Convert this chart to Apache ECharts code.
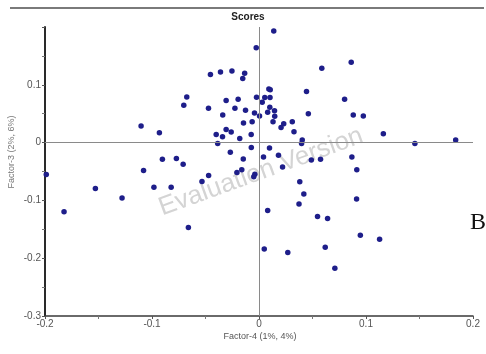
<!DOCTYPE html>
<html>
<head>
<meta charset="utf-8">
<script src="https://cdn.jsdelivr.net/npm/echarts@6/dist/echarts.min.js"></script>
<style>
html,body{margin:0;padding:0;background:#fff;}
#chart{width:486px;height:354px;}
</style>
</head>
<body>
<div id="chart"></div>
<script>
// Scores: Factor-4 (x) vs Factor-3 (y)
const factor4 = [
 -0.0026,-0.0454,-0.0360,-0.0253,-0.0134,-0.0152,-0.0675,-0.0703,-0.0472,-0.0307,
 -0.0195,-0.0023,-0.0225,-0.0126,-0.0042,0.0005,-0.0339,-0.0145,-0.0064,-0.1102,
 -0.0931,-0.0400,-0.0307,-0.0341,-0.0260,-0.0073,-0.0180,-0.0386,-0.0072,-0.0268,
 -0.0903,-0.0772,-0.0709,-0.0147,-0.1079,-0.1988,-0.1822,-0.1529,-0.1280,-0.0982,
 -0.0821,-0.0660,-0.0533,-0.0471,-0.0206,-0.0161,-0.0039,-0.0049,
 0.0138,0.0862,0.0587,0.0444,0.0800,0.0054,0.0103,0.0092,0.0105,0.0030,
 0.0101,0.0145,0.0081,0.0147,0.0131,0.0461,0.0881,0.0975,0.0311,0.0231,
 0.0206,0.0327,0.1162,0.0404,0.0398,0.1457,0.1838,0.0098,0.0042,0.0182,
 0.0220,0.0489,0.0575,0.0868,0.0914,0.0381,0.0419,0.0374,0.0912,0.0081,
 0.0547,0.0641,0.0947,0.1127,0.0049,0.0269,0.0619,0.0709
];
const factor3 = [
 0.164,0.118,0.122,0.124,0.120,0.111,0.079,0.0645,0.0593,0.0728,
 0.0749,0.0783,0.0593,0.056,0.0511,0.0459,0.0477,0.0341,0.0359,0.0286,
 0.017,0.0139,0.0225,0.010,0.0185,0.0139,0.0069,-0.0017,-0.0083,-0.0168,
 -0.0286,-0.0274,-0.0373,-0.0282,-0.0482,-0.0551,-0.1196,-0.0794,-0.0957,-0.0771,
 -0.0771,-0.147,-0.0671,-0.0568,-0.0516,-0.0471,-0.0546,-0.0589,
 0.1932,0.139,0.1286,0.0884,0.0749,0.078,0.078,0.0927,0.0913,0.0698,
 0.0612,0.055,0.0525,0.0454,0.036,0.0497,0.0477,0.0459,0.036,0.0324,
 0.026,0.0187,0.0153,0.0043,-0.0014,-0.0014,0.0043,-0.0095,-0.0251,-0.022,
 -0.0421,-0.0303,-0.0286,-0.0251,-0.0468,-0.0679,-0.0889,-0.1061,-0.0974,-0.1175,
 -0.1279,-0.1314,-0.1603,-0.1672,-0.1841,-0.1903,-0.1811,-0.2175
];
const xTicks = {min:-0.2, max:0.2, interval:0.1};
const yTicks = {min:-0.3, max:0.2, interval:0.1};

const points = factor4.map((x,i)=>[x, factor3[i]]);

const chart = echarts.init(document.getElementById('chart'), null, {renderer:'canvas'});
chart.setOption({
  animation:false,
  backgroundColor:'#fff',
  grid:{left:45, right:13, top:27, bottom:38, containLabel:false},
  xAxis:{
    type:'value', min:xTicks.min, max:xTicks.max, interval:xTicks.interval,
    axisLine:{onZero:false, lineStyle:{color:'#3a3a3a', width:1.5}},
    axisTick:{show:true, length:3, lineStyle:{color:'#555'}},
    minorTick:{show:true, splitNumber:2, length:3, lineStyle:{color:'#777'}},
    splitLine:{show:false},
    axisLabel:{color:'#555', fontSize:10, fontFamily:'Liberation Sans', margin:3,
      formatter: v => String(+(+v).toFixed(2))}
  },
  yAxis:{
    type:'value', min:yTicks.min, max:yTicks.max, interval:yTicks.interval,
    axisLine:{onZero:false, lineStyle:{color:'#2a2a2a', width:2}},
    axisTick:{show:true, length:3, lineStyle:{color:'#555'}},
    minorTick:{show:true, splitNumber:2, length:3, lineStyle:{color:'#777'}},
    splitLine:{show:false},
    axisLabel:{color:'#555', fontSize:10, fontFamily:'Liberation Sans', margin:4,
      formatter: v => { const r = +(+v).toFixed(2); return r >= 0.2 ? '' : String(r); }}
  },
  graphic:[
    {type:'line', shape:{x1:10, y1:8, x2:484, y2:8}, style:{stroke:'#7a7a7a', lineWidth:2}, z:1},
    {type:'text', x:248, y:17, z:5, style:{text:'Scores', align:'center', verticalAlign:'middle',
      font:'bold 10px "Liberation Sans", Arial', fill:'#222'}},
    {type:'text', x:12, y:152, rotation:Math.PI/2, z:5, style:{text:'Factor-3 (2%, 6%)', align:'center', verticalAlign:'middle',
      font:'9px "Liberation Sans", Arial', fill:'#777'}},
    {type:'text', x:260, y:337, z:5, style:{text:'Factor-4 (1%, 4%)', align:'center', verticalAlign:'middle',
      font:'9px "Liberation Sans", Arial', fill:'#555'}},
    {type:'text', x:261, y:172, rotation:20*Math.PI/180, z:0, style:{text:'Evaluation Version', align:'center', verticalAlign:'middle',
      font:'26px "Liberation Sans", Arial', fill:'#d4d4d4'}},
    {type:'text', x:470, y:235, z:5, style:{text:'B', align:'left', verticalAlign:'bottom',
      font:'24px "Liberation Serif", "Times New Roman", serif', fill:'#111'}}
  ],
  series:[{
    type:'scatter',
    data:points,
    symbol:'circle',
    symbolSize:5.5,
    itemStyle:{color:'#1e1e8a', opacity:1},
    z:3,
    markLine:{
      silent:true, symbol:['none','none'], label:{show:false},
      lineStyle:{color:'#8a8a8a', width:1, type:'solid'},
      data:[{xAxis:0},{yAxis:0}]
    }
  }]
});
</script>
</body>
</html>
